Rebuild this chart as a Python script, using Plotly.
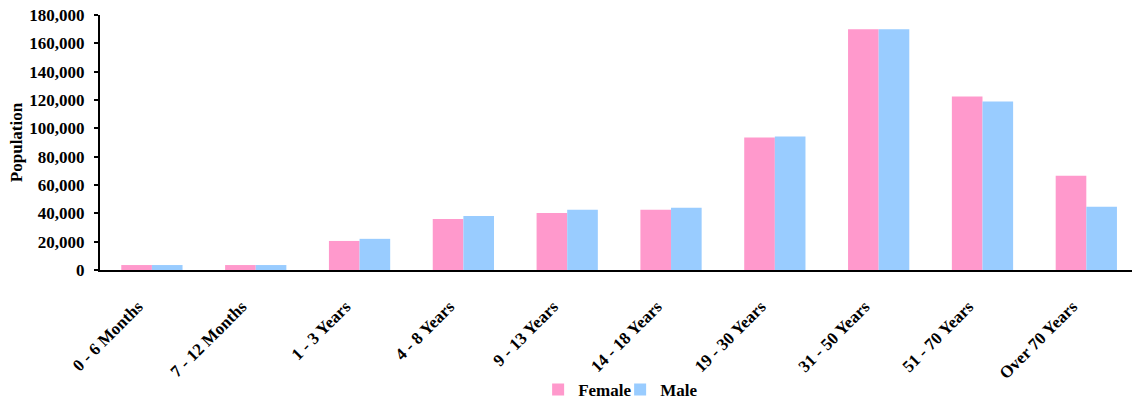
import plotly.graph_objects as go

categories = ["0 - 6 Months", "7 - 12 Months", "1 - 3 Years", "4 - 8 Years", "9 - 13 Years",
              "14 - 18 Years", "19 - 30 Years", "31 - 50 Years", "51 - 70 Years", "Over 70 Years"]
female = [3500, 3500, 20500, 36000, 40300, 42500, 93500, 170000, 122500, 66600]
male = [3500, 3500, 22000, 38200, 42500, 43900, 94200, 170000, 119000, 44600]
y_ticks = [0, 20000, 40000, 60000, 80000, 100000, 120000, 140000, 160000, 180000]

FONT = "Palatino Linotype, Book Antiqua, Liberation Serif, serif"
SIZE = 17

fig = go.Figure()
fig.add_trace(go.Bar(x=categories, y=female, name="Female", marker=dict(color="#FF99CC", line=dict(width=0))))
fig.add_trace(go.Bar(x=categories, y=male, name="Male", marker=dict(color="#99CCFF", line=dict(width=0))))

fig.update_layout(
    width=1132, height=400,
    margin=dict(l=100, r=0, t=15, b=130, autoexpand=False),
    paper_bgcolor="white", plot_bgcolor="white",
    barmode="group", bargap=0.41, bargroupgap=0,
    font=dict(family=FONT, size=SIZE, color="black", weight="bold"),
    showlegend=True,
    legend=dict(orientation="h", x=0.504, xref="paper", xanchor="center",
                y=0.025, yref="container", yanchor="middle",
                font=dict(family=FONT, size=SIZE, color="black", weight="bold"),
                itemwidth=30, tracegroupgap=0,
                entrywidth=37, entrywidthmode="pixels"),
)
fig.update_xaxes(
    type="category", range=[-0.5, 9.44], automargin=False,
    showline=True, linecolor="black", linewidth=2,
    ticks="", tickangle=-45, ticklabelstandoff=18, ticklabelshift=-14,
    tickfont=dict(family=FONT, size=SIZE, color="black", weight="bold"),
    showgrid=False, zeroline=False,
)
fig.update_yaxes(
    range=[0, 180000], tickvals=y_ticks, tickformat=",d", automargin=False,
    showline=True, linecolor="black", linewidth=2,
    ticks="outside", ticklen=4, tickwidth=2, tickcolor="black",
    ticklabelstandoff=6,
    tickfont=dict(family=FONT, size=SIZE, color="black", weight="bold"),
    showgrid=False, zeroline=False,
    title=dict(text="Population", standoff=2,
               font=dict(family=FONT, size=SIZE, color="black", weight="bold")),
)

fig.write_html("out.html")
